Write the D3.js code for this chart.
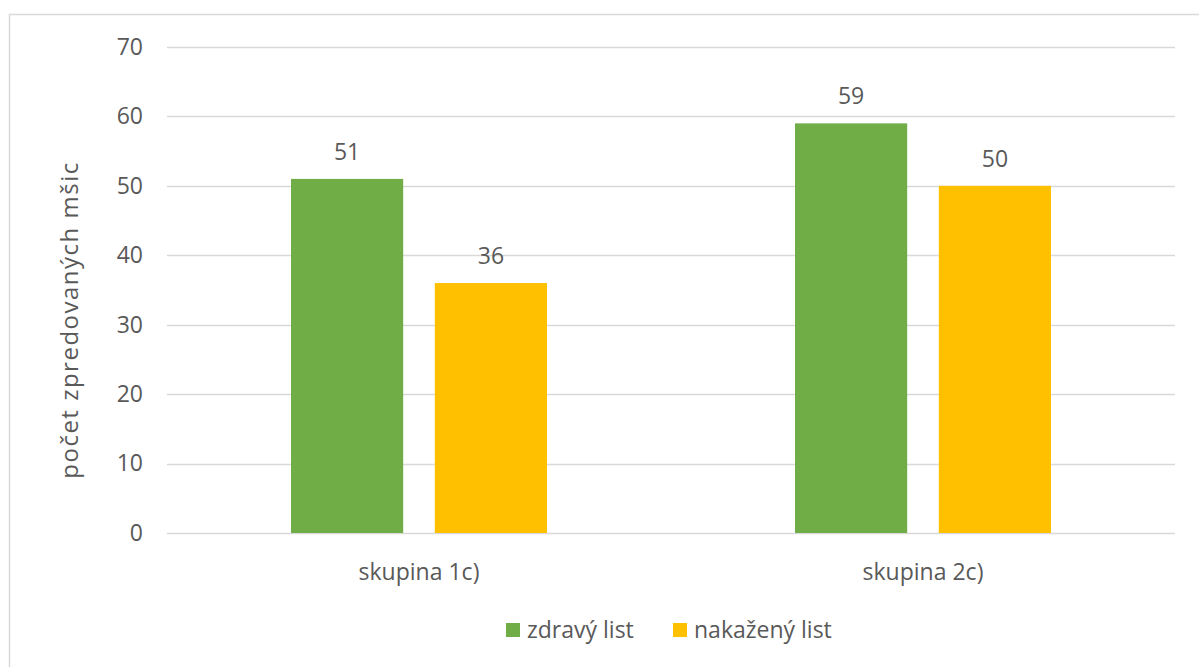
<!DOCTYPE html>
<html>
<head>
<meta charset="utf-8">
<script src="https://cdn.jsdelivr.net/npm/d3@7"></script>
<style>
  html, body { margin: 0; padding: 0; background: #fff; }
  svg { display: block; }
  text { font-family: "Open Sans", "Noto Sans", sans-serif; fill: #595959; }
</style>
</head>
<body>
<svg id="chart" width="1199" height="667"></svg>
<script>
// Chart data
const categories = ["skupina 1c)", "skupina 2c)"];
const seriesNames = ["zdravý list", "nakažený list"];
const zdravyList = [51, 59];
const nakazenyList = [36, 50];
const yTicks = [0, 10, 20, 30, 40, 50, 60, 70];
const colors = ["#70ad47", "#ffc000"];

const series = [zdravyList, nakazenyList];

const svg = d3.select("#chart");
const W = 1199, H = 667;
const margin = { left: 167, right: 24, top: 47, bottom: 134 };
const groupWidth = 256;
const fontSize = 23;

// Outer frame (top and left edges visible)
svg.append("path")
  .attr("d", `M9.5,${H} V14.5 H${W}`)
  .attr("fill", "none")
  .attr("stroke", "#d9d9d9")
  .attr("stroke-width", 1.5);

const x0 = d3.scaleBand()
  .domain(categories)
  .range([margin.left, W - margin.right]);

const x1 = d3.scaleBand()
  .domain(seriesNames)
  .range([0, groupWidth])
  .paddingInner(0.22);

const y = d3.scaleLinear()
  .domain([0, 70])
  .range([H - margin.bottom, margin.top]);

// Gridlines
svg.append("g")
  .selectAll("line")
  .data(yTicks)
  .join("line")
  .attr("x1", margin.left)
  .attr("x2", W - margin.right)
  .attr("y1", d => Math.round(y(d)) + 0.5)
  .attr("y2", d => Math.round(y(d)) + 0.5)
  .attr("stroke", "#d9d9d9")
  .attr("stroke-width", 1.3);

// Y axis labels
const yAxis = d3.axisLeft(y).tickValues(yTicks).tickSize(0).tickPadding(0);
const gy = svg.append("g")
  .attr("transform", `translate(${margin.left - 24},0)`)
  .call(yAxis);
gy.select(".domain").remove();
gy.attr("font-size", fontSize).attr("font-family", null);
gy.selectAll("text").attr("fill", "#595959");

// Bars
const groups = svg.append("g")
  .selectAll("g")
  .data(categories)
  .join("g")
  .attr("transform", d => `translate(${x0(d) + (x0.bandwidth() - groupWidth) / 2},0)`);

groups.selectAll("rect")
  .data((c, i) => seriesNames.map((s, j) => ({ s, v: series[j][i], j })))
  .join("rect")
  .attr("x", d => x1(d.s))
  .attr("width", x1.bandwidth())
  .attr("y", d => y(d.v))
  .attr("height", d => y(0) - y(d.v))
  .attr("fill", d => colors[d.j]);

// Value labels
groups.selectAll("text.val")
  .data((c, i) => seriesNames.map((s, j) => ({ s, v: series[j][i], j })))
  .join("text")
  .attr("class", "val")
  .attr("x", d => x1(d.s) + x1.bandwidth() / 2)
  .attr("y", d => y(d.v) - 19)
  .attr("text-anchor", "middle")
  .attr("font-size", fontSize)
  .text(d => d.v);

// X axis labels
const xAxis = d3.axisBottom(x0).tickSize(0).tickPadding(0);
const gx = svg.append("g")
  .attr("transform", `translate(0,${H - margin.bottom + 39})`)
  .call(xAxis);
gx.select(".domain").remove();
gx.attr("font-size", fontSize).attr("font-family", null);
gx.selectAll("text")
  .attr("fill", "#595959")
  .attr("dy", "0.35em");

// Y axis title
svg.append("text")
  .attr("transform", "translate(78,320) rotate(-90)")
  .attr("text-anchor", "middle")
  .attr("font-size", 24)
  .attr("letter-spacing", 1.5)
  .attr("fill", "#333333")
  .text("počet zpredovaných mšic");

// Legend
const legendX = [506, 673];
const legend = svg.append("g")
  .selectAll("g")
  .data(seriesNames)
  .join("g")
  .attr("transform", (d, i) => `translate(${legendX[i]},623)`);
legend.append("rect")
  .attr("width", 14)
  .attr("height", 14)
  .attr("fill", (d, i) => colors[i]);
legend.append("text")
  .attr("x", 21)
  .attr("y", 7)
  .attr("dy", "0.35em")
  .attr("font-size", fontSize)
  .text(d => d);
</script>
</body>
</html>
